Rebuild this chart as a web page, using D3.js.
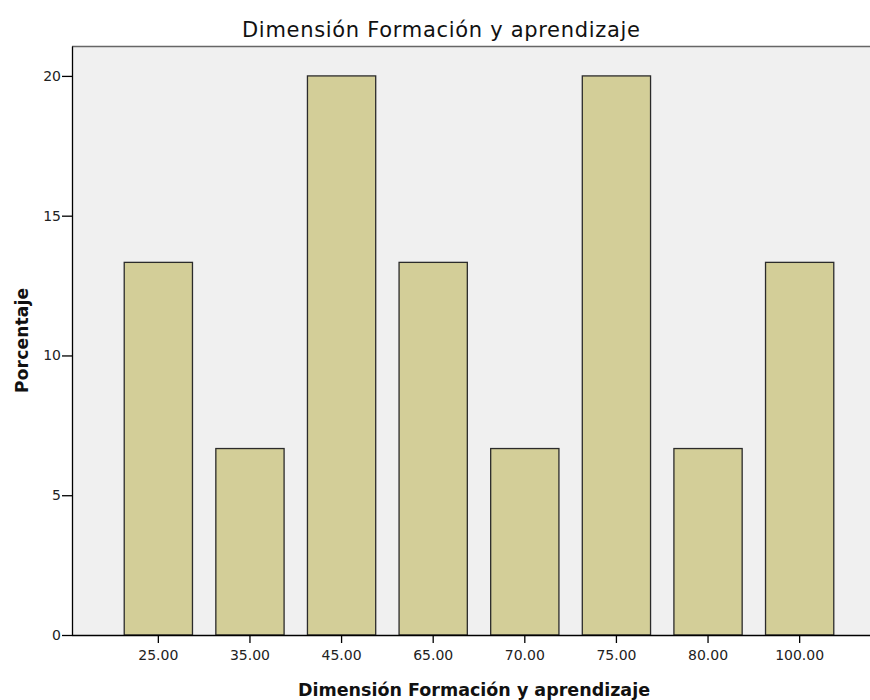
<!DOCTYPE html>
<html>
<head>
<meta charset="utf-8">
<script src="https://cdn.jsdelivr.net/npm/d3@7"></script>
<style>
  body { margin: 0; background: #fff; }
  text { font-family: "DejaVu Sans", sans-serif; }
</style>
</head>
<body>
<div id="chart"></div>
<script>
const categories = ["25.00", "35.00", "45.00", "65.00", "70.00", "75.00", "80.00", "100.00"];
const percentages = [13.33, 6.67, 20, 13.33, 6.67, 20, 6.67, 13.33];
const yTicks = [0, 5, 10, 15, 20];

const data = categories.map((c, i) => ({ cat: c, pct: percentages[i] }));

const svg = d3.select("#chart")
    .append("svg")
    .attr("width", 870)
    .attr("height", 700);

// plot area edges (right edge runs past the window)
const plotLeft = 72, plotTop = 46, plotBottom = 635, plotRight = 886;

const x = d3.scaleBand()
    .domain(categories)
    .range([plotLeft, plotRight])
    .paddingInner(0.255)
    .paddingOuter(0.57);

const y = d3.scaleLinear()
    .domain([0, 21.07])
    .range([plotBottom, plotTop]);

// plot background
svg.append("rect")
    .attr("x", plotLeft)
    .attr("y", plotTop)
    .attr("width", 870 - plotLeft)
    .attr("height", plotBottom - plotTop)
    .style("fill", "#f0f0f0");

svg.append("line")
    .attr("x1", plotLeft).attr("x2", 870)
    .attr("y1", plotTop + 0.5).attr("y2", plotTop + 0.5)
    .style("stroke", "#666")
    .style("stroke-width", 1.5);

// bars
svg.selectAll(".bar")
    .data(data)
    .enter()
    .append("rect")
    .attr("class", "bar")
    .attr("x", d => x(d.cat))
    .attr("y", d => y(d.pct))
    .attr("width", x.bandwidth())
    .attr("height", d => y(0) - y(d.pct))
    .style("fill", "#d3ce98")
    .style("stroke", "#2b2b2b")
    .style("stroke-width", 1.3);

// y axis
const yAxis = svg.append("g")
    .attr("transform", `translate(${plotLeft},0)`)
    .call(d3.axisLeft(y).tickValues(yTicks).tickFormat(d3.format("d")).tickSize(10).tickSizeOuter(0));
yAxis.select(".domain").style("stroke", "#000").style("stroke-width", 1.3);
yAxis.selectAll(".tick line").style("stroke", "#000").style("stroke-width", 1.3);
yAxis.selectAll(".tick text")
    .attr("x", -11)
    .style("font-size", "14px")
    .style("fill", "#222")
    .style("font-family", "'DejaVu Sans', sans-serif");

// x axis
const xAxis = svg.append("g")
    .attr("transform", `translate(0,${plotBottom})`)
    .call(d3.axisBottom(x).tickSize(8).tickSizeOuter(0));
xAxis.select(".domain").attr("d", `M${plotLeft},0.5H870`).style("stroke", "#000").style("stroke-width", 1.3);
xAxis.selectAll(".tick line").style("stroke", "#000").style("stroke-width", 1.3);
xAxis.selectAll(".tick text")
    .attr("y", 25)
    .attr("dy", 0)
    .style("font-size", "14px")
    .style("fill", "#222")
    .style("font-family", "'DejaVu Sans', sans-serif");

// titles, fitted to the widths seen in the picture
svg.append("text")
    .attr("x", 242)
    .attr("y", 37)
    .attr("textLength", 398)
    .attr("lengthAdjust", "spacing")
    .style("font-size", "21px")
    .style("fill", "#111")
    .text("Dimensión Formación y aprendizaje");

svg.append("text")
    .attr("x", 298)
    .attr("y", 696)
    .attr("textLength", 352)
    .attr("lengthAdjust", "spacing")
    .style("font-size", "17.5px")
    .style("font-weight", "bold")
    .style("fill", "#111")
    .text("Dimensión Formación y aprendizaje");

svg.append("text")
    .attr("transform", "rotate(-90)")
    .attr("x", -393)
    .attr("y", 28)
    .attr("textLength", 105)
    .attr("lengthAdjust", "spacing")
    .style("font-size", "17px")
    .style("font-weight", "bold")
    .style("fill", "#111")
    .text("Porcentaje");
</script>
</body>
</html>
